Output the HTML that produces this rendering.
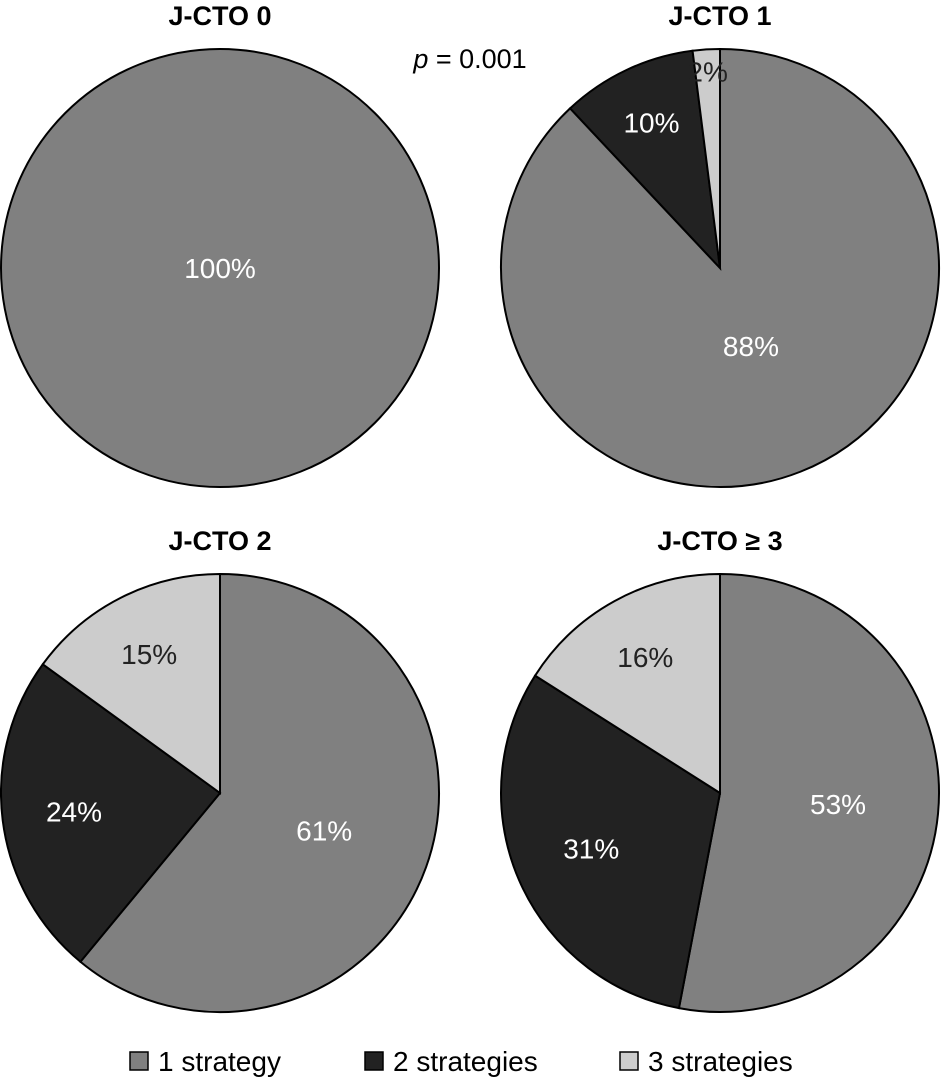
<!DOCTYPE html>
<html><head><meta charset="utf-8"><style>
body{margin:0;background:#fff;}
svg{display:block;font-family:"Liberation Sans",sans-serif;}
</style></head><body>
<svg id="chart" width="943" height="1081" viewBox="0 0 943 1081">
<text x="470" y="68" font-size="27" text-anchor="middle"><tspan font-style="italic">p</tspan> = 0.001</text>
<g id="legend"></g>
</svg>
<script>
const panelTitles=["J-CTO 0","J-CTO 1","J-CTO 2","J-CTO \u2265 3"];
const seriesNames=["1 strategy","2 strategies","3 strategies"];
const oneStrategy=[100,88,61,53];
const twoStrategies=[0,10,24,31];
const threeStrategies=[0,2,15,16];
const colors=["#808080","#222222","#cccccc"];
const textColors=["#fff","#fff","#222"];
const centers=[[220,268],[720,268],[220,793],[720,793]];
const R=219;
const ns="http://www.w3.org/2000/svg";
const svg=document.getElementById('chart');
function mk(t,a){const e=document.createElementNS(ns,t);for(const k in a)e.setAttribute(k,a[k]);return e;}
function pt(cx,cy,r,f){const a=f*2*Math.PI;return [cx+r*Math.sin(a),cy-r*Math.cos(a)];}
panelTitles.forEach((title,i)=>{
  const [cx,cy]=centers[i];
  const g=mk('g',{});
  
  
  svg.appendChild(g);
  const t=mk('text',{x:cx,y:cy-R-24,'font-size':27,'font-weight':'bold','text-anchor':'middle'});
  
  
  t.textContent=title;g.appendChild(t);
  const vals=[oneStrategy[i],twoStrategies[i],threeStrategies[i]];
  const total=vals.reduce((a,b)=>a+b,0);
  let acc=0;
  vals.forEach((v,j)=>{
    if(v<=0)return;
    const f0=acc/total,f1=(acc+v)/total;acc+=v;
    let el;
    if(f1-f0>=0.9999){el=mk('circle',{cx:cx,cy:cy,r:R});}
    else{
      const p0=pt(cx,cy,R,f0),p1=pt(cx,cy,R,f1);
      el=mk('path',{d:`M${cx},${cy}L${p0[0]},${p0[1]}A${R},${R} 0 ${f1-f0>0.5?1:0} 1 ${p1[0]},${p1[1]}Z`});
    }
    el.setAttribute('fill',colors[j]);el.setAttribute('stroke','#000');el.setAttribute('stroke-width','2');
    
    
    g.appendChild(el);
  });
  acc=0;
  vals.forEach((v,j)=>{
    if(v<=0)return;
    const share=v/total;
    const f0=acc/total,f1=(acc+v)/total;acc+=v;
    let x=cx,y=cy;
    if(f1-f0<0.9999){
      const frac=share<0.05?0.9:0.78-0.45*share;
      [x,y]=pt(cx,cy,R*frac,(f0+f1)/2);
    }
    const l=mk('text',{x:x,y:y+10,'font-size':28,'text-anchor':'middle',fill:textColors[j]});
    
    
    l.textContent=Math.round(share*100)+'%';
    g.appendChild(l);
  });
});
const lg=document.getElementById('legend');
const lx=[130,365,620];
seriesNames.forEach((n,j)=>{
  const r=mk('rect',{x:lx[j],y:1052,width:18,height:18,fill:colors[j],stroke:'#000','stroke-width':1.5});
  
  
  lg.appendChild(r);
  const t=mk('text',{x:lx[j]+28,y:1071,'font-size':28});
  
  
  t.textContent=n;lg.appendChild(t);
});
</script>
</body></html>
